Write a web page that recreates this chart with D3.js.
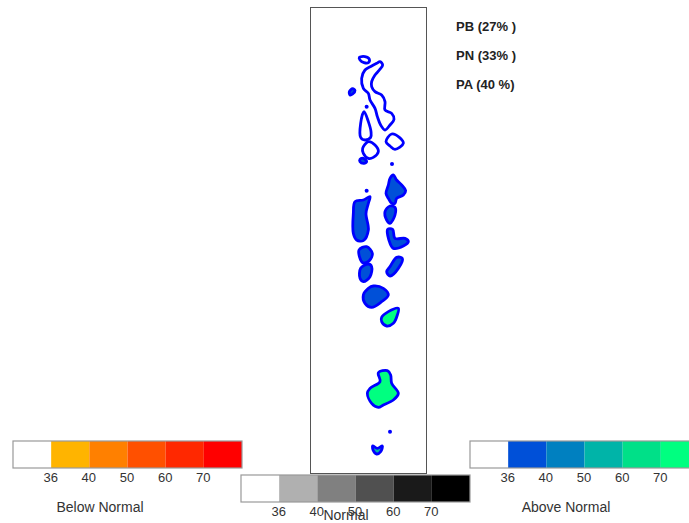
<!DOCTYPE html>
<html>
<head>
<meta charset="utf-8">
<script src="https://cdn.jsdelivr.net/npm/d3@7"></script>
<style>
  html, body { margin: 0; padding: 0; background: #fff; overflow: hidden; }
  text { font-family: "Liberation Sans", Arial, sans-serif; }
</style>
</head>
<body>
<svg id="map" width="689" height="523"></svg>
<script>
// probabilities
const terciles = ["PB (27% )", "PN (33% )", "PA (40 %)"];
const tickLabels = ["36", "40", "50", "60", "70"];
const thresholds = [36, 40, 50, 60, 70];
const belowColors = ["#ffffff", "#ffb400", "#ff8000", "#ff5000", "#ff2800", "#ff0000"];
const normalColors = ["#ffffff", "#b0b0b0", "#808080", "#505050", "#1a1a1a", "#000000"];
const aboveColors = ["#ffffff", "#0050d8", "#0080c0", "#00b4a8", "#00e088", "#00ff80"];

// island outlines, [lon, lat]
const northTip = [[72.967,6.993],[73.08,7.007],[73.167,6.953],[73.147,6.887],[73.06,6.887],[72.98,6.94]];
const longAtoll = [[73.38,6.907],[73.433,6.84],[73.367,6.74],[73.28,6.64],[73.213,6.507],[73.213,6.407],[73.28,6.307],[73.413,6.24],[73.48,6.107],[73.48,5.94],[73.613,5.873],[73.66,5.753],[73.58,5.64],[73.48,5.54],[73.393,5.64],[73.327,5.807],[73.28,5.973],[73.18,6.14],[73.147,6.273],[73.047,6.373],[73.013,6.573],[73.08,6.74],[73.213,6.82],[73.313,6.873]];
const tallAtoll = [[73.06,5.907],[73.147,5.707],[73.2,5.507],[73.193,5.393],[73.08,5.34],[72.993,5.393],[72.993,5.673]];
const lowerAtoll = [[73.147,5.307],[73.28,5.24],[73.347,5.107],[73.247,4.993],[73.147,4.973],[73.047,5.073],[73.033,5.173]];
const eastDiamond = [[73.613,5.46],[73.767,5.393],[73.847,5.273],[73.68,5.153],[73.58,5.22],[73.5,5.307]];
const westSpot = [[72.767,6.307],[72.833,6.367],[72.88,6.327],[72.833,6.26],[72.78,6.24]];
const lowerSpot = [[72.98,4.953],[73.047,4.973],[73.113,4.907],[73.06,4.873],[72.98,4.907]];
const eastBlob = [[73.647,4.64],[73.713,4.54],[73.813,4.44],[73.893,4.327],[73.847,4.24],[73.713,4.173],[73.68,4.073],[73.613,4.073],[73.547,4.173],[73.5,4.273],[73.547,4.44],[73.58,4.573]];
const eastBelow = [[73.58,4.02],[73.68,3.993],[73.68,3.84],[73.58,3.673],[73.513,3.74],[73.48,3.907]];
const westLong = [[72.88,4.107],[73.047,4.14],[73.18,4.207],[73.147,4.073],[73.1,3.873],[73.147,3.54],[73.047,3.327],[72.913,3.34],[72.847,3.473],[72.847,3.873]];
const elbow = [[73.533,3.553],[73.633,3.553],[73.68,3.373],[73.88,3.373],[73.947,3.307],[73.847,3.22],[73.647,3.173],[73.58,3.273]];
const squareAtoll = [[72.96,3.14],[73.113,3.207],[73.227,3.073],[73.167,2.927],[73.033,2.887]];
const southWest = [[72.993,2.773],[73.147,2.86],[73.213,2.807],[73.18,2.607],[73.047,2.507],[72.98,2.573]];
const diagonal = [[73.713,2.993],[73.827,2.973],[73.747,2.773],[73.58,2.62],[73.513,2.707],[73.58,2.807]];
const bigBlue = [[73.247,2.42],[73.447,2.373],[73.547,2.24],[73.413,2.107],[73.213,1.993],[73.08,2.073],[73.047,2.24],[73.147,2.373]];
const smallGreen = [[73.747,1.973],[73.727,1.84],[73.647,1.673],[73.513,1.62],[73.413,1.707],[73.413,1.793],[73.547,1.907]];
const bigGreen = [[73.347,0.687],[73.527,0.727],[73.593,0.64],[73.613,0.473],[73.747,0.273],[73.647,0.14],[73.447,0.04],[73.347,-0.007],[73.213,0.073],[73.127,0.273],[73.18,0.373],[73.38,0.507]];
const southTip = [[73.233,-0.78],[73.327,-0.827],[73.427,-0.78],[73.393,-0.893],[73.313,-0.94],[73.247,-0.873]];

const rings = [northTip, longAtoll, tallAtoll, lowerAtoll, eastDiamond, westSpot, lowerSpot, eastBlob, eastBelow, westLong, elbow, squareAtoll, southWest, diagonal, bigBlue, smallGreen, bigGreen, southTip];
// above normal probability of each island, same order as rings
const ringProb = [30, 30, 30, 30, 30, 38, 38, 38, 38, 38, 38, 38, 38, 38, 38, 72, 72, 52];

// very small islands
const dotLon = [73.113, 73.62, 73.113, 73.58];
const dotLat = [6.007, 4.86, 4.327, -0.493];

const svg = d3.select('#map');

const x = d3.scaleLinear().domain([72, 74.32]).range([311, 427]);
const y = d3.scaleLinear().domain([8, -1.32]).range([7, 473]);
const aboveScale = d3.scaleThreshold().domain(thresholds).range(aboveColors);

const line = d3.line()
  .x(d => x(d[0]))
  .y(d => y(d[1]))
  .curve(d3.curveCatmullRomClosed.alpha(0.5));

svg.append('rect')
  .attr('x', x.range()[0] - 0.5)
  .attr('y', y.range()[0] + 0.5)
  .attr('width', x.range()[1] - x.range()[0])
  .attr('height', y.range()[1] - y.range()[0])
  .attr('fill', 'none')
  .attr('stroke', '#555')
  .attr('stroke-width', 1);

svg.append('g').selectAll('path').data(rings)
  .enter().append('path')
    .attr('d', line)
    .attr('fill', (d, i) => aboveScale(ringProb[i]))
    .attr('stroke', '#0000ff')
    .attr('stroke-width', 2.8)
    .attr('stroke-linejoin', 'round');

svg.append('g').selectAll('circle').data(dotLon)
  .enter().append('circle')
    .attr('cx', d => x(d))
    .attr('cy', (d, i) => y(dotLat[i]))
    .attr('r', 2)
    .attr('fill', '#0000ff');

svg.append('g').selectAll('text').data(terciles)
  .enter().append('text')
    .attr('x', 456)
    .attr('y', (d, i) => 31 + i * 29)
    .attr('font-size', 13)
    .attr('font-weight', 'bold')
    .attr('fill', '#222')
    .text(d => d);

const drawLegend = (colors, left, top, title, titleX, titleY) => {
  const cellWidth = d3.scaleLinear().domain([0, 6]).range([left, left + 229]);
  const cellTop = top;
  const g = svg.append('g');

  g.selectAll('rect').data(colors)
    .enter().append('rect')
      .attr('x', (d, i) => cellWidth(i))
      .attr('y', cellTop)
      .attr('width', cellWidth(1) - cellWidth(0))
      .attr('height', 27)
      .attr('fill', d => d);

  g.append('rect')
    .attr('x', left)
    .attr('y', cellTop)
    .attr('width', 229)
    .attr('height', 27)
    .attr('fill', 'none')
    .attr('stroke', '#999')
    .attr('stroke-width', 1.2);

  const axis = d3.axisBottom(cellWidth)
    .tickValues([1, 2, 3, 4, 5])
    .tickFormat((d, i) => tickLabels[i])
    .tickSize(0)
    .tickPadding(5)
    .offset(0);

  const axisG = g.append('g')
    .attr('transform', `translate(-0.5, ${cellTop + 27})`)
    .call(axis);
  axisG.select('.domain').remove();
  axisG.selectAll('text')
    .attr('font-size', 13)
    .attr('font-family', '"Liberation Sans", Arial, sans-serif')
    .attr('fill', '#333');

  g.append('text')
    .attr('x', titleX)
    .attr('y', titleY)
    .attr('text-anchor', 'middle')
    .attr('font-size', 14)
    .attr('fill', '#333')
    .text(title);
};

drawLegend(belowColors, 13, 441, 'Below Normal', 100, 512);
drawLegend(normalColors, 241, 475, 'Normal', 346, 520);
drawLegend(aboveColors, 470, 441, 'Above Normal', 566, 512);
</script>
</body>
</html>
